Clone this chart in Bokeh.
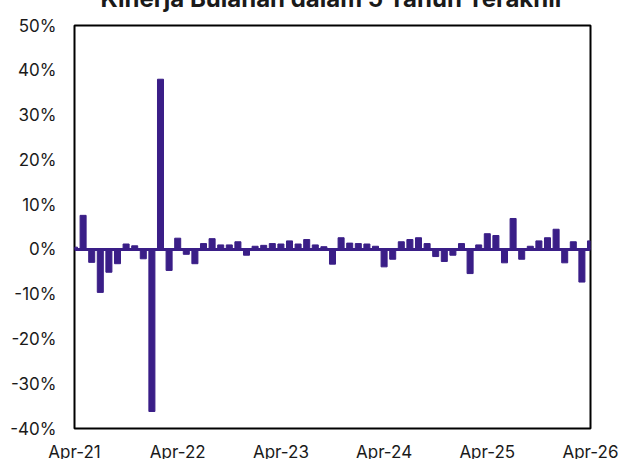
import pandas as pd
from bokeh.plotting import figure
from bokeh.models import (Range1d, FixedTicker, PrintfTickFormatter, Span,
                          ColumnDataSource, InlineStyleSheet)
from bokeh.embed import file_html
from bokeh.resources import INLINE

# ---------------- data ----------------
title_text = "Kinerja Bulanan dalam 5 Tahun Terakhir"
months = [d.strftime("%b-%y") for d in pd.date_range("2021-04-01", "2026-04-01", freq="MS")]
monthly_return_pct = [
    0.5, 7.6, -2.9, -9.6, -5.1, -3.2, 1.2, 0.8, -2.1, -36.2,
    38.0, -4.7, 2.5, -1.1, -3.2, 1.3, 2.4, 1.0, 1.0, 1.7,
    -1.3, 0.7, 0.9, 1.3, 1.2, 1.9, 1.2, 2.2, 1.0, 0.6,
    -3.3, 2.6, 1.4, 1.3, 1.2, 0.7, -3.9, -2.2, 1.7, 2.2,
    2.6, 1.3, -1.6, -2.7, -1.3, 1.3, -5.4, 1.0, 3.5, 3.1,
    -3.0, 6.9, -2.2, 0.7, 1.9, 2.6, 4.5, -3.0, 1.7, -7.3,
    1.9,
]
x_tick_labels = ["Apr-21", "Apr-22", "Apr-23", "Apr-24", "Apr-25", "Apr-26"]
y_ticks = [-40, -30, -20, -10, 0, 10, 20, 30, 40, 50]

# ---------------- style ----------------
PURPLE = "#3a1e87"
TEXT = "#1a1a1a"
FONT = "Inter"

idx = list(range(len(months)))
src = ColumnDataSource(dict(x=idx, month=months, ret=monthly_return_pct))

p = figure(width=631, height=500, output_backend="svg", toolbar_location=None,
           title=title_text,
           x_range=Range1d(idx[0], idx[-1]), y_range=Range1d(y_ticks[0], y_ticks[-1]),
           min_border_left=82, min_border_right=33, min_border_top=60,
           min_border_bottom=37)
p.stylesheets = [InlineStyleSheet(css=":host { margin: -35px -8px -8px -8px !important; }")]

p.title.align = "center"
p.title.vertical_align = "bottom"
p.title.standoff = 26
p.title.offset = 4
p.title.text_font = FONT
p.title.text_font_style = "bold"
p.title.text_font_size = "24px"
p.title.text_color = TEXT

p.vbar(x="x", top="ret", bottom=0, width=0.7, source=src,
       fill_color=PURPLE, line_color=PURPLE, line_width=1)

p.add_layout(Span(location=0, dimension="width", line_color=PURPLE, line_width=3))

p.xgrid.visible = False
p.ygrid.visible = False
p.outline_line_color = "black"
p.outline_line_width = 2
p.outline_line_alpha = 1.0
p.background_fill_color = "white"
p.border_fill_color = "white"

tick_pos = [i for i, m in enumerate(months) if m in x_tick_labels]
p.xaxis.ticker = FixedTicker(ticks=tick_pos)
p.xaxis.major_label_overrides = {i: months[i] for i in tick_pos}
p.yaxis.ticker = FixedTicker(ticks=y_ticks)
p.yaxis.formatter = PrintfTickFormatter(format="%d%%")

for ax in (p.xaxis, p.yaxis):
    ax.axis_line_color = None
    ax.major_tick_line_color = None
    ax.minor_tick_line_color = None
    ax.major_tick_out = 0
    ax.major_tick_in = 0
    ax.major_label_text_font = FONT
    ax.major_label_text_font_size = "17px"
    ax.major_label_text_color = TEXT
p.xaxis.major_label_standoff = 13
p.yaxis.major_label_standoff = 18

open("out.html", "w").write(file_html(p, INLINE))
